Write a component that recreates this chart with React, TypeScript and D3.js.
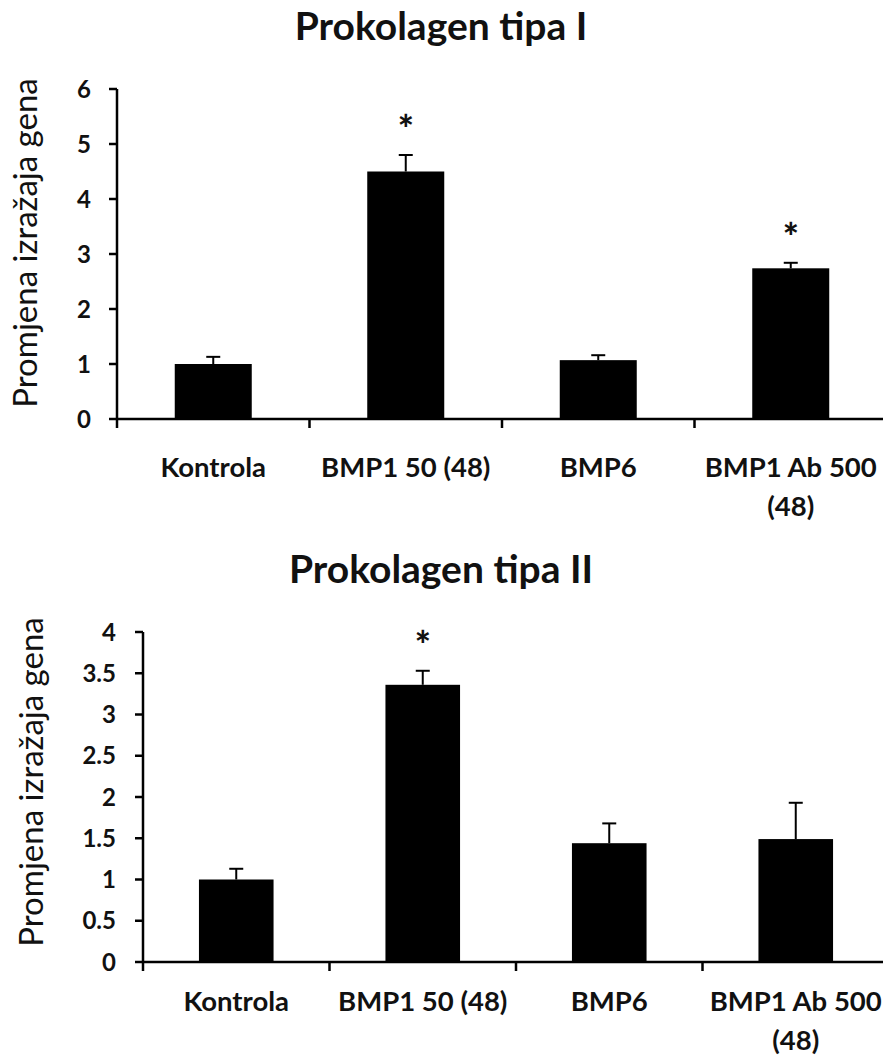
import React from "react";
import * as d3 from "d3";

const categories = ["Kontrola", "BMP1 50 (48)", "BMP6", "BMP1 Ab 500 (48)"];
const categoryLines = [["Kontrola"], ["BMP1 50 (48)"], ["BMP6"], ["BMP1 Ab 500", "(48)"]];

const chart1Title = "Prokolagen tipa I";
const chart1Values = [1.0, 4.5, 1.07, 2.74];
const chart1ErrTop = [1.13, 4.8, 1.16, 2.84];
const chart1Sig = [false, true, false, true];
const chart1Ticks = [0, 1, 2, 3, 4, 5, 6];
const chart1TickLabels = ["0", "1", "2", "3", "4", "5", "6"];

const chart2Title = "Prokolagen tipa II";
const chart2Values = [1.0, 3.36, 1.44, 1.49];
const chart2ErrTop = [1.13, 3.53, 1.68, 1.93];
const chart2Sig = [false, true, false, false];
const chart2Ticks = [0, 0.5, 1, 1.5, 2, 2.5, 3, 3.5, 4];
const chart2TickLabels = ["0", "0.5", "1", "1.5", "2", "2.5", "3", "3.5", "4"];

const yLabel = "Promjena izražaja gena";

const FONT = "Lato, 'Open Sans', sans-serif";

type PanelProps = {
  title: string;
  values: number[];
  errTop: number[];
  sig: boolean[];
  ticks: number[];
  tickLabels: string[];
  yMax: number;
  x0: number;
  x1: number;
  yTop: number;
  yBottom: number;
  titleY: number;
  yLabelX: number;
  yLabelY: number;
  labelY: number;
  tickLabelX: number;
};

function Panel(p: PanelProps) {
  const x = d3.scaleBand<string>().domain(categories).range([p.x0, p.x1]).paddingInner(0.6).paddingOuter(0.3);
  const y = d3.scaleLinear().domain([0, p.yMax]).range([p.yBottom, p.yTop]);
  const step = x.step();
  return (
    <g>
      <text x={441} y={p.titleY} textAnchor="middle" fontFamily={FONT} fontWeight="bold" fontSize={39} fill="#111">
        {p.title}
      </text>
      <text
        transform={`translate(${p.yLabelX},${p.yLabelY}) rotate(-90)`}
        textAnchor="middle"
        fontFamily={FONT}
        fontSize={33}
        fill="#111"
      >
        {yLabel}
      </text>
      {categories.map((c, i) => {
        const bx = x(c)!;
        const bw = x.bandwidth();
        const cx = bx + bw / 2;
        return (
          <g key={c}>
            <rect x={bx} y={y(p.values[i])} width={bw} height={p.yBottom - y(p.values[i])} fill="#000" />
            <line x1={cx} x2={cx} y1={y(p.values[i])} y2={y(p.errTop[i])} stroke="#000" strokeWidth={2} />
            <line x1={cx - 7} x2={cx + 7} y1={y(p.errTop[i])} y2={y(p.errTop[i])} stroke="#000" strokeWidth={2} />
            {p.sig[i] && (
              <text x={cx} y={y(p.errTop[i]) - 12} textAnchor="middle" fontFamily={FONT} fontWeight="900" fontSize={38} fill="#111">
                *
              </text>
            )}
            {categoryLines[i].map((ln, j) => (
              <text
                key={j}
                x={cx}
                y={p.labelY + j * 39}
                textAnchor="middle"
                fontFamily={FONT}
                fontWeight="bold"
                fontSize={27.5}
                fill="#111"
              >
                {ln}
              </text>
            ))}
          </g>
        );
      })}
      {p.ticks.map((t, i) => (
        <g key={t}>
          <line x1={p.x0 - 8} x2={p.x0} y1={y(t)} y2={y(t)} stroke="#000" strokeWidth={2.5} />
          <text x={p.tickLabelX} y={y(t)} dy="0.36em" textAnchor="end" fontFamily={FONT} fontWeight="bold" fontSize={24} fill="#111">
            {p.tickLabels[i]}
          </text>
        </g>
      ))}
      {d3.range(categories.length + 1).map((i) => (
        <line key={i} x1={p.x0 + i * step} x2={p.x0 + i * step} y1={p.yBottom} y2={p.yBottom + 9} stroke="#000" strokeWidth={2.5} />
      ))}
      <line x1={p.x0} x2={p.x0} y1={p.yTop} y2={p.yBottom} stroke="#000" strokeWidth={2.5} />
      <line x1={p.x0} x2={p.x1} y1={p.yBottom} y2={p.yBottom} stroke="#000" strokeWidth={2.5} />
    </g>
  );
}

export default function App() {
  return (
    <svg width={883} height={1057} style={{ position: "absolute", left: 0, top: 0, background: "#fff" }}>
      <rect width={883} height={1057} fill="#fff" />
      <Panel
        title={chart1Title}
        values={chart1Values}
        errTop={chart1ErrTop}
        sig={chart1Sig}
        ticks={chart1Ticks}
        tickLabels={chart1TickLabels}
        yMax={6}
        x0={117}
        x1={887}
        yTop={89}
        yBottom={419}
        titleY={40}
        yLabelX={37}
        yLabelY={243}
        labelY={477}
        tickLabelX={91}
      />
      <Panel
        title={chart2Title}
        values={chart2Values}
        errTop={chart2ErrTop}
        sig={chart2Sig}
        ticks={chart2Ticks}
        tickLabels={chart2TickLabels}
        yMax={4}
        x0={143}
        x1={889}
        yTop={632}
        yBottom={962}
        titleY={583}
        yLabelX={43}
        yLabelY={782}
        labelY={1011}
        tickLabelX={116}
      />
    </svg>
  );
}
